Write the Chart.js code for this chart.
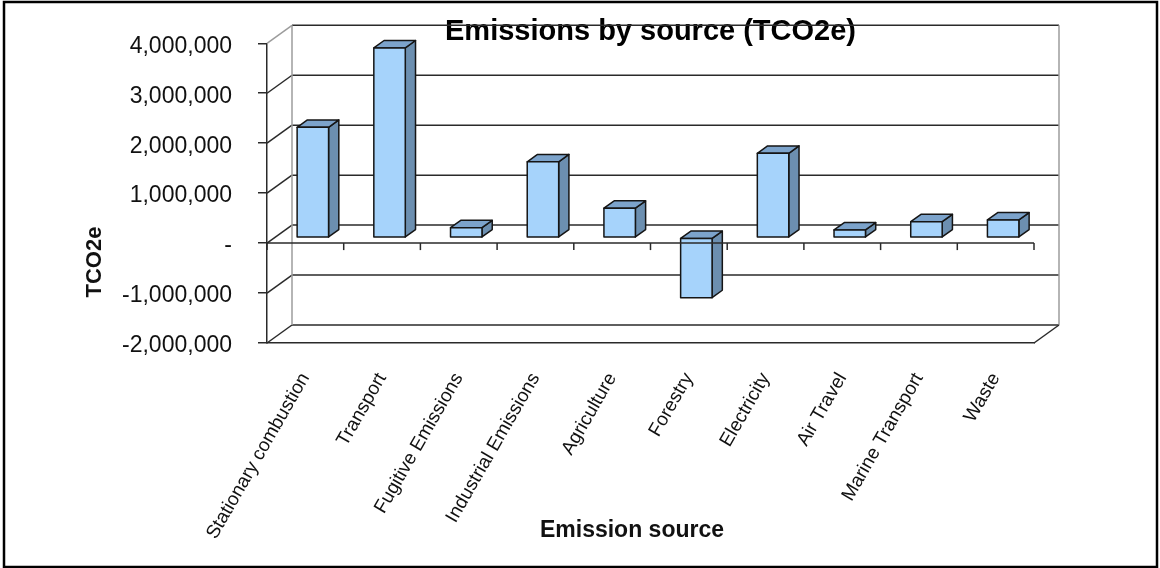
<!DOCTYPE html>
<html>
<head>
<meta charset="utf-8">
<title>Emissions by source (TCO2e)</title>
<script src="https://cdn.jsdelivr.net/npm/chart.js@4.4.1/dist/chart.umd.min.js"></script>
<style>
  html, body { margin: 0; padding: 0; background: #fff; }
  #wrap { width: 1160px; height: 568px; position: relative; }
  canvas { display: block; }
</style>
</head>
<body>
<div id="wrap"><canvas id="chart" width="1160" height="568"></canvas></div>
<script>
// ---- data ----
const categories = [
  'Stationary combustion', 'Transport', 'Fugitive Emissions', 'Industrial Emissions',
  'Agriculture', 'Forestry', 'Electricity', 'Air Travel', 'Marine Transport', 'Waste'
];
const emissions = [2210000, 3800000, 200000, 1520000, 590000, -1200000, 1690000, 155000, 320000, 355000];
const yTickValues = [-2000000, -1000000, 0, 1000000, 2000000, 3000000, 4000000];
const yTickLabels = ['-2,000,000', '-1,000,000', '-', '1,000,000', '2,000,000', '3,000,000', '4,000,000'];

// ---- 3D look ----
const WALL = { dx: 25, dy: -18 };      // offset of the back wall from the front plane
const BAR_FRONT = 0.3;                 // depth fraction where a bar's front face sits
const BAR_DEPTH = 0.41;                // depth fraction taken by a bar
const FONT = "'Liberation Sans', Arial, Helvetica, sans-serif";
const DARK = '#2a2a2a';
const GREY = '#9c9c9c';
const FACE = { front: '#a6d3fb', top: '#7ca3cb', side: '#6c8fb0', edge: '#151515' };

function seg(ctx, x1, y1, x2, y2) {
  ctx.beginPath();
  ctx.moveTo(x1, y1);
  ctx.lineTo(x2, y2);
  ctx.stroke();
}
function poly(ctx, pts, fill) {
  ctx.beginPath();
  ctx.moveTo(pts[0][0], pts[0][1]);
  for (let i = 1; i < pts.length; i++) ctx.lineTo(pts[i][0], pts[i][1]);
  ctx.closePath();
  ctx.fillStyle = fill;
  ctx.fill();
  ctx.stroke();
}

const frame3d = {
  id: 'frame3d',
  beforeDatasetsDraw(chart) {
    const { ctx, chartArea: a, scales: { y } } = chart;
    ctx.save();
    ctx.lineWidth = 1.5;
    yTickValues.forEach((v, i) => {
      const py = y.getPixelForValue(v);
      // back wall gridline
      ctx.strokeStyle = DARK;
      seg(ctx, a.left + WALL.dx, py + WALL.dy, a.right + WALL.dx, py + WALL.dy);
      // side wall gridline
      ctx.strokeStyle = i === yTickValues.length - 1 ? GREY : DARK;
      seg(ctx, a.left, py, a.left + WALL.dx, py + WALL.dy);
    });
    ctx.strokeStyle = GREY;
    seg(ctx, a.left + WALL.dx, a.top + WALL.dy, a.left + WALL.dx, a.bottom + WALL.dy);
    seg(ctx, a.right + WALL.dx, a.top + WALL.dy, a.right + WALL.dx, a.bottom + WALL.dy);
    ctx.strokeStyle = DARK;
    seg(ctx, a.right, a.bottom, a.right + WALL.dx, a.bottom + WALL.dy);
    ctx.restore();
  },
  afterDatasetsDraw(chart) {
    const { ctx, chartArea: a, scales: { x, y } } = chart;
    const meta = chart.getDatasetMeta(0);
    const fx = WALL.dx * BAR_FRONT, fy = WALL.dy * BAR_FRONT;
    const ddx = WALL.dx * BAR_DEPTH, ddy = WALL.dy * BAR_DEPTH;
    ctx.save();
    ctx.lineWidth = 1.5;
    ctx.lineJoin = 'round';
    ctx.strokeStyle = FACE.edge;
    meta.data.forEach((bar) => {
      const p = bar.getProps(['x', 'y', 'base', 'width'], true);
      const L = p.x - p.width / 2 + fx, R = p.x + p.width / 2 + fx;
      const T = Math.min(p.y, p.base) + fy, B = Math.max(p.y, p.base) + fy;
      poly(ctx, [[R, T], [R + ddx, T + ddy], [R + ddx, B + ddy], [R, B]], FACE.side);
      poly(ctx, [[L, T], [R, T], [R + ddx, T + ddy], [L + ddx, T + ddy]], FACE.top);
      poly(ctx, [[L, T], [R, T], [R, B], [L, B]], FACE.front);
    });
    // category axis along the zero line, with tick marks between categories
    const y0 = y.getPixelForValue(0);
    ctx.strokeStyle = DARK;
    seg(ctx, a.left, y0, a.right, y0);
    for (let i = 0; i <= categories.length; i++) {
      const px = x.getPixelForValue(i - 0.5);
      seg(ctx, px, y0, px, y0 + 7);
    }
    ctx.restore();
  },
  afterDraw(chart) {
    const { ctx } = chart;
    ctx.save();
    ctx.fillStyle = '#111';
    ctx.font = 'bold 23px ' + FONT;
    ctx.textAlign = 'center';
    ctx.textBaseline = 'middle';
    ctx.fillText('Emission source', 632, 531);
    ctx.font = 'bold 22px ' + FONT;
    ctx.translate(95, 262);
    ctx.rotate(-Math.PI / 2);
    ctx.fillText('TCO2e', 0, 0);
    ctx.restore();
    // outer frame
    ctx.save();
    ctx.strokeStyle = '#000';
    ctx.lineWidth = 2.5;
    ctx.strokeRect(4, 2, 1153, 565);
    ctx.restore();
  }
};

new Chart(document.getElementById('chart'), {
  type: 'bar',
  data: {
    labels: categories,
    datasets: [{
      label: 'TCO2e',
      data: emissions,
      backgroundColor: 'rgba(0,0,0,0)',
      borderWidth: 0,
      categoryPercentage: 1,
      barPercentage: 0.41
    }]
  },
  plugins: [frame3d],
  options: {
    responsive: false,
    animation: false,
    events: [],
    layout: { padding: { left: 0, right: 126, top: 0, bottom: 0 } },
    font: { family: FONT },
    plugins: {
      legend: { display: false },
      tooltip: { enabled: false },
      title: {
        display: true,
        text: 'Emissions by source (TCO2e)',
        fullSize: false,
        color: '#000',
        font: { family: FONT, size: 29, weight: 'bold', lineHeight: 1.2 },
        padding: { top: 14.6, bottom: -6.1 }
      }
    },
    scales: {
      x: {
        type: 'category',
        offset: true,
        grid: { display: false },
        border: { display: true, color: DARK, width: 1.5 },
        ticks: {
          autoSkip: false,
          minRotation: 60,
          maxRotation: 60,
          padding: 18,
          color: '#111',
          font: { family: FONT, size: 19 }
        },
        afterFit(scale) { scale.height = 225; }
      },
      y: {
        type: 'linear',
        min: -2000000,
        max: 4000000,
        afterBuildTicks(scale) { scale.ticks = yTickValues.map(v => ({ value: v })); },
        grid: {
          display: true,
          drawOnChartArea: false,
          drawTicks: true,
          tickLength: 9,
          color: DARK,
          lineWidth: 1.5
        },
        border: { display: true, color: DARK, width: 1.5 },
        ticks: {
          padding: 26,
          labelOffset: 3,
          color: '#111',
          font: { family: FONT, size: 23 },
          callback: (v) => yTickLabels[yTickValues.indexOf(v)]
        },
        afterFit(scale) { scale.width = 267; }
      }
    }
  }
});
</script>
</body>
</html>
